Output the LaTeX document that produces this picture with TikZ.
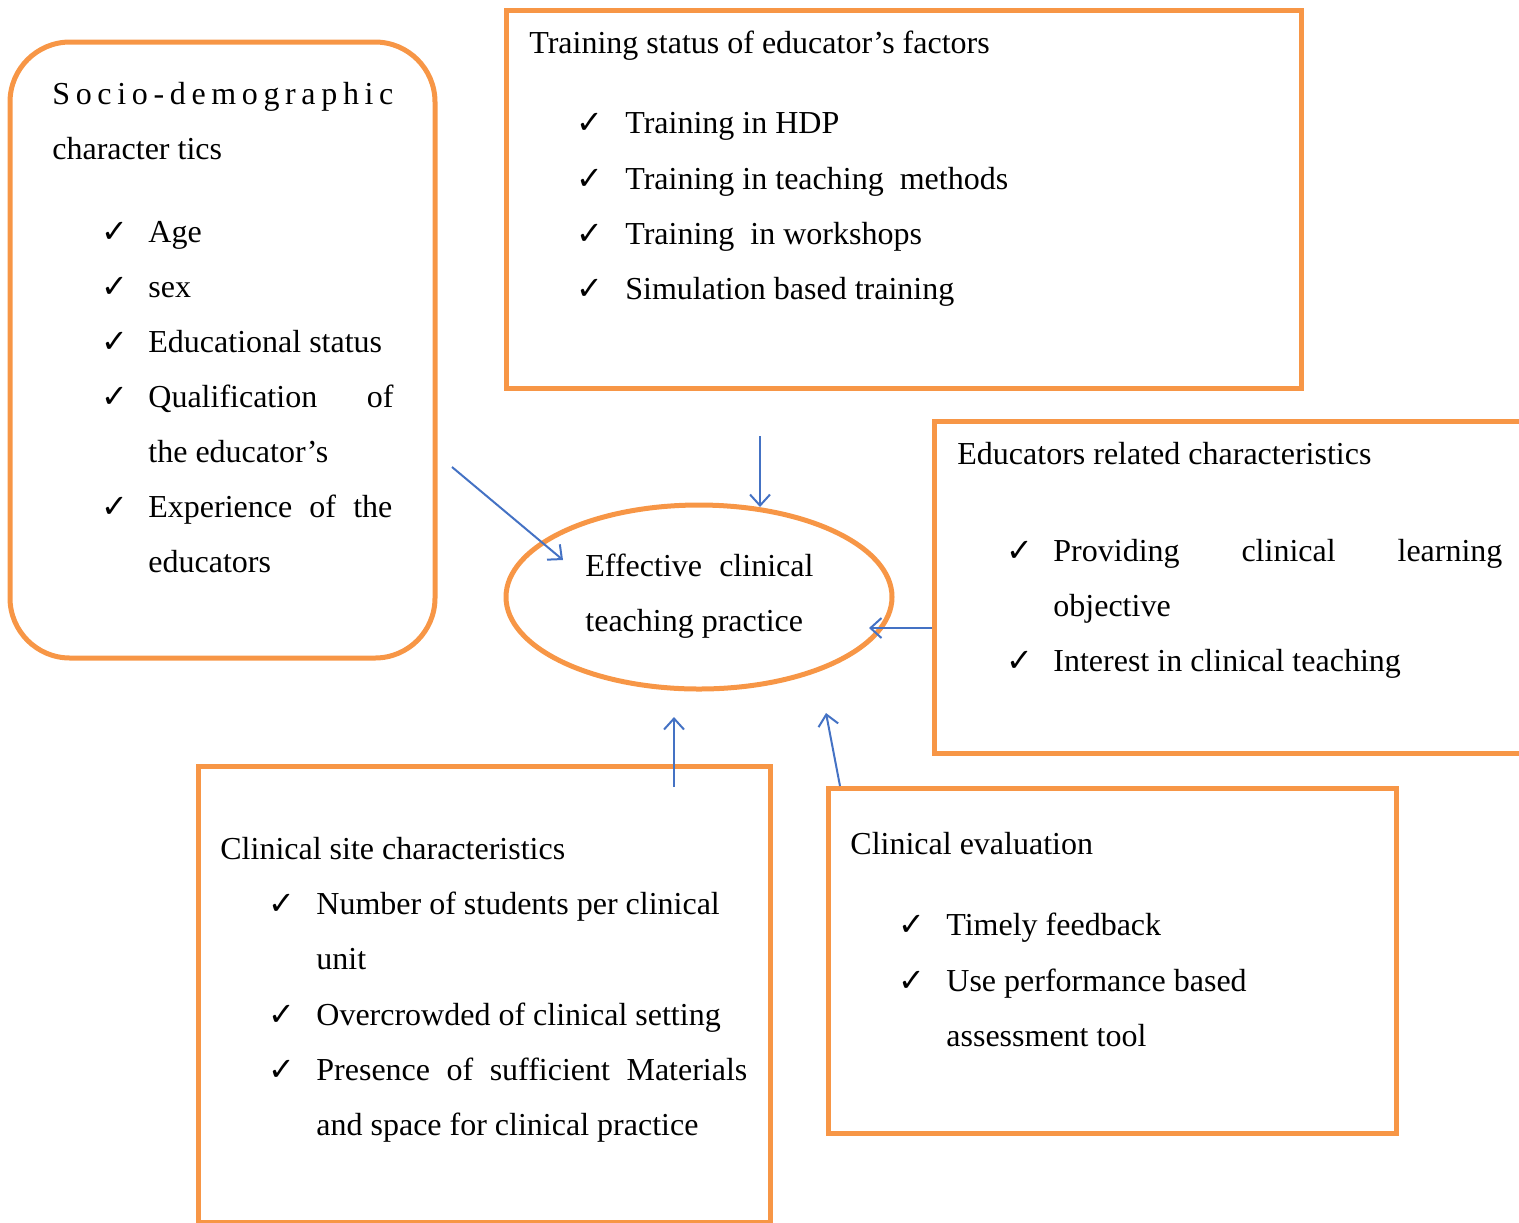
\documentclass[tikz,border=0pt]{standalone}
\usepackage{fontspec}
\setmainfont{Liberation Serif}
\newfontfamily\dejavu{DejaVu Sans}
\usetikzlibrary{arrows.meta,shapes.geometric}
\definecolor{orng}{HTML}{F79646}
\definecolor{blu}{HTML}{4472C4}
\tikzset{
 box/.style={draw=orng, line width=2.5pt, anchor=north west, inner sep=0pt, outer sep=0pt},
 txt/.style={anchor=base west, inner sep=0pt, font=\fontsize{16}{18}\selectfont},
 chk/.style={anchor=base west, inner sep=0pt, font=\dejavu\bfseries\fontsize{16}{18}\selectfont},
 arr/.style={draw=blu, line width=1pt, -{Straight Barb[length=5.5pt,width=10pt]}}
}
\newcommand{\ck}{✓}
\begin{document}
\begin{tikzpicture}[x=0.5pt,y=-0.5pt]
\useasboundingbox (0,0) rectangle (1519,1222);
\clip (0,0) rectangle (1519,1222);
% boxes
\node[box, rounded corners=30pt, minimum width=212.5pt, minimum height=308pt] (socio) at (10,42) {};
\node[box, minimum width=397.5pt, minimum height=189pt] (train) at (506,10) {};
\node[box, minimum width=310pt, minimum height=166pt] (edu) at (934,421) {};
\node[box, minimum width=286pt, minimum height=228pt] (site) at (198,766) {};
\node[box, minimum width=284pt, minimum height=172.5pt] (eval) at (828,788) {};
\node[draw=orng, line width=2.5pt, ellipse, minimum width=193pt, minimum height=92pt, inner sep=0pt, outer sep=0pt] (eff) at (699,597) {};
% socio text
\node[txt] (s1) at (52,104) {\makebox[170.5pt][s]{S\hfill o\hfill c\hfill i\hfill o\hfill -\hfill d\hfill e\hfill m\hfill o\hfill g\hfill r\hfill a\hfill p\hfill h\hfill i\hfill c}};
\node[txt] (s2) at (52,159) {character tics};
\foreach \y/\n in {242/c1,297/c2,352/c3,407/c4,517/c5} \node[chk] (s\n) at (101,\y) {\ck};
\node[txt] (s3) at (148,242) {Age};
\node[txt] (s4) at (148,297) {sex};
\node[txt] (s5) at (148,352) {Educational status};
\node[txt] (s6) at (148,407) {\makebox[122.5pt][l]{Qualification\hfill of}};
\node[txt] (s7) at (148,462) {the educator’s};
\node[txt] (s8) at (148,517) {\makebox[122pt][l]{Experience\hfill of\hfill the}};
\node[txt] (s9) at (148,572) {educators};
% training text
\node[txt] (t1) at (529,53) {Training status of educator’s factors};
\foreach \y/\n in {133/c1,189/c2,244/c3,299/c4} \node[chk] (t\n) at (576,\y) {\ck};
\node[txt] (t2) at (625,133) {Training in HDP};
\node[txt] (t3) at (625,189) {Training in teaching\ \ methods};
\node[txt] (t4) at (625,244) {Training\ \ in workshops};
\node[txt] (t5) at (625,299) {Simulation based training};
% educators related
\node[txt] (e1) at (957,464) {Educators related characteristics};
\foreach \y/\n in {561/c1,671/c2} \node[chk] (e\n) at (1006,\y) {\ck};
\node[txt] (e2) at (1053,561) {\makebox[224.5pt][l]{Providing\hfill clinical\hfill learning}};
\node[txt] (e3) at (1053,616) {objective};
\node[txt] (e4) at (1053,671) {Interest in clinical teaching};
% ellipse text
\node[txt] (f1) at (585,576) {\makebox[114pt][l]{Effective\hfill clinical}};
\node[txt] (f2) at (585,631) {teaching practice};
% clinical site
\node[txt] (c1) at (220,859) {Clinical site characteristics};
\foreach \y/\n in {914/c1,1025/c2,1080/c3} \node[chk] (c\n) at (268,\y) {\ck};
\node[txt] (c2) at (316,914) {Number of students per clinical};
\node[txt] (c3) at (316,969) {unit};
\node[txt] (c4) at (316,1025) {Overcrowded of clinical setting};
\node[txt] (c5) at (316,1080) {\makebox[215.5pt][l]{Presence\hfill of\hfill sufficient\hfill Materials}};
\node[txt] (c6) at (316,1135) {and space for clinical practice};
% evaluation
\node[txt] (v1) at (850,854) {Clinical evaluation};
\foreach \y/\n in {935/c1,991/c2} \node[chk] (v\n) at (898,\y) {\ck};
\node[txt] (v2) at (946,935) {Timely feedback};
\node[txt] (v3) at (946,991) {Use performance based};
\node[txt] (v4) at (946,1046) {assessment tool};
% arrows
\coordinate (a1s) at (452,467); \coordinate (a1e) at (563,560);
\coordinate (a2s) at (760,436); \coordinate (a2e) at (760,507);
\coordinate (a3s) at (932,628); \coordinate (a3e) at (869,628);
\coordinate (a4s) at (674,787); \coordinate (a4e) at (674,717);
\coordinate (a5s) at (840,786); \coordinate (a5e) at (826,713);
\draw[arr] (a1s) -- (a1e);
\draw[arr] (a2s) -- (a2e);
\draw[arr] (a3s) -- (a3e);
\draw[arr] (a4s) -- (a4e);
\draw[arr] (a5s) -- (a5e);
\end{tikzpicture}
\end{document}
